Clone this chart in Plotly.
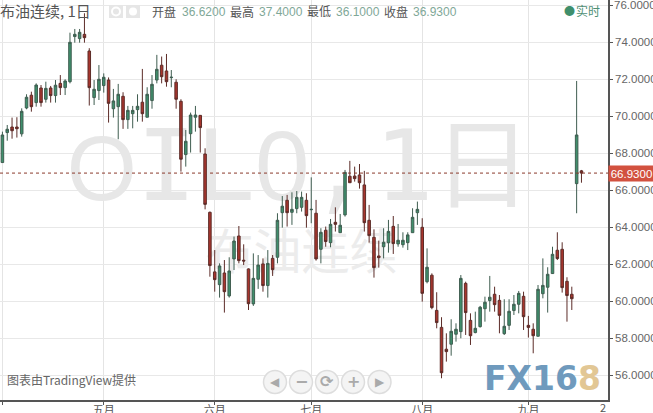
import plotly.graph_objects as go

opens = [67.50,69.12,69.42,69.42,69.05,70.45,71.14,70.74,71.53,70.92,71.53,71.12,71.78,71.55,71.87,74.31,74.20,74.43,73.53,
71.01,71.39,71.66,71.96,70.41,70.52,71.08,69.82,70.14,70.36,70.76,69.95,70.85,71.96,72.76,72.45,72.09,71.84,70.81,67.93,69.06,
69.95,70.05,67.96,64.81,61.59,60.90,61.53,60.29,62.29,63.53,62.22,61.75,59.86,61.19,62.02,60.85,62.32,62.38,64.79,65.46,
64.81,65.01,65.08,65.46,64.95,64.76,62.81,63.84,63.17,64.27,63.71,64.67,66.76,66.77,66.83,66.29,64.38,63.46,62.45,62.95,
63.17,64.05,63.10,63.06,63.17,63.71,64.79,64.00,61.06,61.41,59.51,58.59,57.41,57.68,58.22,58.36,60.97,58.97,58.31,58.63,
59.60,60.04,60.38,60.05,58.25,58.70,59.50,59.84,60.27,58.70,58.49,58.11,60.41,60.76,61.50,62.76,62.81,61.08,60.38,66.36,67.05]
highs = [69.17,69.53,69.93,69.95,70.43,71.19,71.33,71.78,71.69,71.87,71.64,71.96,72.23,72.00,74.52,74.72,74.72,75.57,73.68,
71.96,72.77,72.32,72.10,71.48,71.75,71.30,70.56,70.56,71.19,72.56,71.57,72.23,73.32,73.23,73.37,72.50,72.00,70.92,69.26,70.20,
70.56,70.07,68.27,64.85,62.77,62.05,62.23,62.38,63.50,64.07,63.08,61.78,62.59,62.50,62.32,62.77,62.50,64.76,65.69,65.75,
65.89,65.96,65.93,65.84,66.70,65.48,63.95,64.04,64.45,65.08,64.72,67.10,67.59,67.28,67.42,67.05,65.21,63.89,63.28,63.95,
64.40,64.61,64.18,63.73,63.73,65.03,65.39,64.49,62.86,61.51,60.49,59.14,58.27,59.03,58.81,61.42,61.06,59.35,59.44,59.75,
60.25,61.37,60.79,60.34,60.11,60.11,60.34,60.56,60.52,59.21,58.81,60.88,62.32,61.84,62.95,63.73,63.19,61.30,60.79,71.91,67.10]
lows = [67.50,68.68,68.79,68.85,68.90,70.38,70.25,70.52,70.52,70.74,70.74,70.74,71.15,71.15,71.78,73.98,73.98,73.98,70.58,
70.61,70.88,71.28,69.66,69.93,68.76,69.32,69.32,69.35,69.71,69.71,69.95,70.41,71.78,71.78,71.60,71.57,70.41,67.01,67.28,68.04,
69.17,68.04,64.97,61.33,60.52,60.20,59.39,60.20,61.69,62.05,61.96,59.53,59.75,60.67,60.52,60.20,61.37,62.05,63.98,64.04,
64.13,64.76,64.85,63.98,64.22,62.20,62.05,62.95,62.92,63.77,63.71,64.58,66.41,66.47,66.09,63.77,63.17,61.28,61.82,62.32,
62.63,62.56,62.95,62.90,62.77,63.71,64.13,59.98,60.97,59.57,58.54,55.84,56.74,57.06,57.82,58.00,58.18,57.64,58.27,58.58,
58.90,59.44,59.44,58.27,58.18,58.45,59.26,59.35,58.45,58.04,57.19,58.11,60.16,59.39,61.48,62.23,60.47,58.90,59.53,64.76,66.41]
closes = [68.99,69.30,69.22,69.33,70.27,71.03,70.52,71.69,70.74,71.51,71.12,71.68,71.55,71.91,74.00,74.43,74.54,74.25,71.55,
71.46,72.00,72.11,70.70,70.83,71.19,69.82,70.32,70.32,70.54,70.14,71.19,71.73,72.54,72.14,71.87,72.11,70.92,67.68,68.65,70.07,
70.07,69.39,65.24,61.93,61.17,61.91,60.52,61.64,63.26,62.20,62.18,59.87,61.24,61.96,60.85,62.05,61.71,64.38,65.14,64.79,
64.97,65.62,65.62,64.63,64.97,62.29,63.73,63.23,64.16,64.16,64.11,66.97,66.41,66.63,66.41,64.25,63.55,61.82,62.36,63.19,
63.78,63.12,63.30,63.30,63.59,64.54,64.97,60.43,61.84,59.66,58.85,56.14,57.28,58.38,58.49,61.24,59.39,58.14,58.54,59.68,
59.95,60.22,59.82,59.24,58.65,59.46,59.84,60.43,59.17,58.59,58.14,60.65,60.86,61.46,62.54,62.31,60.74,60.31,60.14,68.99,66.93]
days = list(range(len(opens)))

month_days = [0, 21, 44, 64, 87, 109]
month_labels = ["四月", "五月", "六月", "七月", "八月", "九月"]
price_ticks = [56, 58, 60, 62, 64, 66, 68, 70, 72, 74, 76]
last_price = 66.93

W, H = 653, 413
PL, PR, PT, PB = 0, 608, 0, 400
CJK = "Noto Sans CJK SC"
LAT = "Liberation Sans, Noto Sans CJK SC"
X_RANGE = [-0.5, 125.5]
Y_RANGE = [54.665, 76.286]

def fx(px):
    return (px - PL) / (PR - PL)

def fy(py):
    return 1 - (py - PT) / (PB - PT)

fig = go.Figure()

fig.add_trace(go.Scatter(
    x=[61.5, 62], y=[66.79, 62.39], mode="text",
    text=["<span style='font-family:Liberation Sans;font-size:90px'>O</span>IL<span style='font-family:Liberation Sans'>0</span>,<span style='font-size:10px'> </span>1日", "布油连续"],
    textposition="middle center",
    textfont=dict(size=[98, 48], color=["#e7e7e7", "#ececec"], family="DejaVu Sans Mono, Noto Sans CJK SC"),
    hoverinfo="skip", showlegend=False))

fig.add_trace(go.Candlestick(
    x=days, open=opens, high=highs, low=lows, close=closes,
    xaxis="x2", yaxis="y2", showlegend=False,
    whiskerwidth=0,
    increasing=dict(line=dict(color="#3f5d50", width=1), fillcolor="#3f8f6c"),
    decreasing=dict(line=dict(color="#5c2c28", width=1), fillcolor="#a8352d")))

shapes = [dict(type="line", xref="paper", x0=0, x1=1, yref="y", y0=last_price, y1=last_price,
               line=dict(color="#8a3a2c", width=1, dash="dot"))]

annotations = []

def label(px, py, text, size, color, anchor="left", family=CJK, **kw):
    annotations.append(dict(
        xref="paper", yref="paper", x=fx(px), y=fy(py), text=text, showarrow=False,
        xanchor=anchor, yanchor="middle", borderpad=0,
        font=dict(size=size, color=color, family=family), **kw))

label(-1, 11, "布油连续, 1日", 15, "#555555")

for x0 in (109, 126):
    shapes.append(dict(type="rect", xref="paper", yref="paper", x0=fx(x0), x1=fx(x0 + 14),
                       y0=fy(18), y1=fy(5), fillcolor="#e6e6e6", line=dict(width=0)))
shapes.append(dict(type="circle", xref="paper", yref="paper", x0=fx(112), x1=fx(120),
                   y0=fy(15.5), y1=fy(7.5), fillcolor="rgba(0,0,0,0)", line=dict(color="#ffffff", width=2)))
shapes.append(dict(type="circle", xref="paper", yref="paper", x0=fx(129), x1=fx(137),
                   y0=fy(15.5), y1=fy(7.5), fillcolor="#ffffff", line=dict(width=0)))

VAL = "#7fa898"
for px, t, c in [(151, "开盘", "#555555"), (181, "36.6200", VAL),
                 (229, "最高", "#555555"), (258, "37.4000", VAL),
                 (306, "最低", "#555555"), (335, "36.1000", VAL),
                 (383, "收盘", "#555555"), (412, "36.9300", VAL)]:
    label(px, 12, t, 12, c, family=LAT)

label(563, 10.5, "●", 11, "#3f8f6c")
label(575, 10.5, "实时", 12, "#4f8f74")
label(6, 379, "图表由TradingView提供", 12, "#666666")
label(603, 407, "2", 11, "#555555", anchor="center")
label(613, 5, "76.0000", 11.5, "#666666", family=LAT)

for cx, g in [(275, "◀"), (301, "−"), (327, "⟳"), (353, "+"), (379.5, "▶")]:
    shapes.append(dict(type="circle", xref="paper", yref="paper",
                       x0=fx(cx - 11.5), x1=fx(cx + 11.5), y0=fy(382 + 11.5), y1=fy(382 - 11.5),
                       fillcolor="#f4f4f4", line=dict(color="#dddddd", width=1.5)))
    label(cx, 381.5, "<b>%s</b>" % g, 12 if g in "◀▶" else 16, "#aaaaaa", anchor="center", family="DejaVu Sans")

label(483, 378.5, '<b><span style="color:#6f9abd">FX16</span><span style="color:#e2c795">8</span></b>',
      33, "#6f9abd", family="DejaVu Sans")

annotations.append(dict(
    xref="paper", yref="y", x=1, y=last_price, text="66.9300", showarrow=False,
    xanchor="left", yanchor="middle", xshift=0, width=45, height=15, align="center",
    bgcolor="#d2513f", borderpad=0, font=dict(size=11.5, color="#ffffff", family=LAT)))

fig.update_layout(
    width=W, height=H, autosize=False,
    margin=dict(l=PL, r=W - PR, t=PT, b=H - PB, pad=0, autoexpand=False),
    paper_bgcolor="#ffffff", plot_bgcolor="#ffffff",
    showlegend=False, boxgap=0.25, shapes=shapes, annotations=annotations,
    xaxis=dict(range=X_RANGE, tickvals=month_days, ticktext=month_labels, automargin=False,
               showgrid=True, gridcolor="#e4e4e4", gridwidth=1, zeroline=False,
               showline=True, linecolor="#555555", linewidth=1.5,
               ticks="outside", ticklen=3, tickcolor="#555555", ticklabelstandoff=-4,
               tickfont=dict(size=11, color="#555555", family=CJK), tickangle=0),
    yaxis=dict(range=Y_RANGE, side="right", tickvals=price_ticks, automargin=False,
               ticktext=["%.4f" % v for v in price_ticks],
               showgrid=True, gridcolor="#e8e8e8", gridwidth=1, zeroline=False,
               showline=True, linecolor="#555555", linewidth=1.5,
               ticks="outside", ticklen=3, tickcolor="#555555",
               tickfont=dict(size=11.5, color="#666666", family=LAT)),
    xaxis2=dict(range=X_RANGE, overlaying="x", visible=False, rangeslider=dict(visible=False)),
    yaxis2=dict(range=Y_RANGE, overlaying="y", visible=False),
    hovermode=False)

fig.write_html("out.html", config={"displayModeBar": False},
               post_script="document.body.style.margin='0';document.documentElement.style.overflow='hidden';")
